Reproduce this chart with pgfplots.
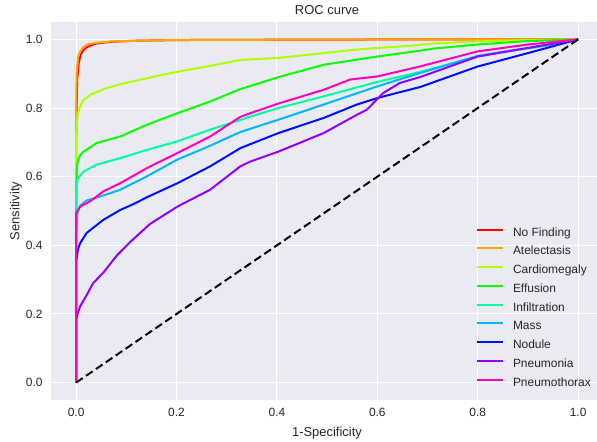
\documentclass[border=0pt]{standalone}
\usepackage{fontspec}
\setmainfont{Liberation Sans}
\usepackage{pgfplots}
\pgfplotsset{compat=1.18}

\definecolor{bg}{RGB}{234,234,242}
\definecolor{tc}{RGB}{38,38,38}
\definecolor{cNF}{RGB}{255,0,0}
\definecolor{cAt}{RGB}{255,167,0}
\definecolor{cCa}{RGB}{176,255,0}
\definecolor{cEf}{RGB}{8,255,0}
\definecolor{cIn}{RGB}{0,255,159}
\definecolor{cMa}{RGB}{0,183,255}
\definecolor{cNo}{RGB}{0,16,255}
\definecolor{cPn}{RGB}{148,0,255}
\definecolor{cPt}{RGB}{255,0,191}

\begin{document}
\begin{tikzpicture}
\begin{axis}[
    at={(51bp,42.2bp)}, anchor=south west,
    scale only axis,
    width=546bp, height=377.6bp,
    xmin=-0.05, xmax=1.0376,
    ymin=-0.05, ymax=1.05,
    xtick={0,0.2,0.4,0.6,0.8,1.0},
    ytick={0,0.2,0.4,0.6,0.8,1.0},
    /pgf/number format/.cd, fixed, fixed zerofill, precision=1, assume math mode=true,
    /pgfplots/.cd,
    axis background/.style={fill=bg},
    axis line style={draw=none},
    major tick length=0pt,
    grid=major,
    grid style={white, line width=1bp},
    tick label style={font=\fontsize{12}{14}\selectfont, text=tc, inner sep=0pt},
    xticklabel style={anchor=north, yshift=-8.6bp},
    yticklabel style={anchor=east, xshift=-8.3bp},
    title={ROC curve},
    every axis title shift=0pt,
    title style={at={(axis description cs:0.5055,1)}, anchor=base, inner sep=0pt,
        yshift=7.6bp, font=\fontsize{13}{15}\selectfont, text=tc},
    xlabel={1-Specificity},
    xlabel style={at={([yshift=-36.7bp]axis description cs:0.5055,0)}, anchor=base,
        inner sep=0pt, font=\fontsize{13}{15}\selectfont, text=tc},
    ylabel={Sensitivity},
    ylabel style={at={([xshift=-31.5bp]axis description cs:0,0.5)}, anchor=base,
        rotate=0, inner sep=0pt, font=\fontsize{13}{15}\selectfont, text=tc},
    legend style={at={(0.7784,0.4576)}, anchor=north west, draw=none, fill=none,
        inner sep=0pt, outer sep=0pt, row sep=6.75bp, column sep=9bp,
        font=\fontsize{12}{14}\selectfont, text=tc,
        nodes={inner sep=0pt, text height=9bp, text depth=3bp}},
    legend cell align=left,
    legend image code/.code={\draw[#1] (0bp,3.5bp) -- (26bp,3.5bp);},
    every axis plot/.append style={line width=2bp, line join=round},
]

\addplot[cNF] coordinates {
    (0,0) (0,0.70) (0.002,0.88) (0.005,0.93) (0.009,0.955) (0.015,0.970)
    (0.025,0.980) (0.04,0.988) (0.07,0.993) (0.12,0.996) (0.2,0.998)
    (0.4,0.999) (0.7,1.0) (1,1)
};
\addlegendentry{No Finding}

\addplot[cAt] coordinates {
    (0,0) (0,0.78) (0.001,0.90) (0.004,0.95) (0.008,0.965) (0.014,0.977)
    (0.022,0.985) (0.04,0.990) (0.07,0.994) (0.12,0.996) (0.2,0.998)
    (0.4,0.999) (0.7,1.0) (1,1)
};
\addlegendentry{Atelectasis}

\addplot[cCa] coordinates {
    (0,0) (0,0.72) (0.003,0.78) (0.008,0.805) (0.015,0.824) (0.03,0.840)
    (0.061,0.858) (0.09,0.870) (0.127,0.882) (0.16,0.893) (0.2,0.905)
    (0.26,0.921) (0.327,0.940) (0.403,0.946) (0.45,0.953) (0.493,0.960)
    (0.55,0.969) (0.6,0.975) (0.665,0.981) (0.711,0.988) (0.8,0.994)
    (0.9,0.998) (1,1)
};
\addlegendentry{Cardiomegaly}

\addplot[cEf] coordinates {
    (0,0) (0,0.47) (0.001,0.62) (0.003,0.644) (0.008,0.662) (0.015,0.673)
    (0.041,0.698) (0.088,0.717) (0.141,0.751) (0.202,0.785) (0.267,0.819)
    (0.327,0.855) (0.403,0.890) (0.493,0.926) (0.6,0.950) (0.685,0.967)
    (0.711,0.973) (0.8,0.985) (0.9,0.995) (1,1)
};
\addlegendentry{Effusion}

\addplot[cIn] coordinates {
    (0,0) (0,0.45) (0.001,0.58) (0.004,0.596) (0.015,0.615) (0.041,0.635)
    (0.088,0.654) (0.141,0.678) (0.202,0.703) (0.267,0.737) (0.327,0.765)
    (0.347,0.775) (0.403,0.800) (0.493,0.834) (0.6,0.876) (0.685,0.905)
    (0.8,0.950) (0.845,0.962) (0.944,0.983) (1,1)
};
\addlegendentry{Infiltration}

\addplot[cMa] coordinates {
    (0,0) (0,0.42) (0.002,0.49) (0.008,0.515) (0.02,0.530) (0.054,0.545)
    (0.088,0.562) (0.141,0.601) (0.202,0.650) (0.267,0.690) (0.327,0.730)
    (0.403,0.766) (0.493,0.810) (0.6,0.863) (0.685,0.902) (0.8,0.952)
    (0.9,0.975) (1,1)
};
\addlegendentry{Mass}

\addplot[cNo] coordinates {
    (0,0) (0,0.353) (0.004,0.390) (0.008,0.406) (0.021,0.436) (0.054,0.474)
    (0.088,0.503) (0.114,0.520) (0.141,0.540) (0.202,0.581) (0.267,0.630)
    (0.327,0.683) (0.403,0.727) (0.493,0.771) (0.559,0.810) (0.6,0.829)
    (0.639,0.844) (0.685,0.861) (0.8,0.921) (0.9,0.960) (1,1)
};
\addlegendentry{Nodule}

\addplot[cPn] coordinates {
    (0,0) (0,0.183) (0.004,0.205) (0.008,0.222) (0.021,0.255) (0.034,0.290)
    (0.054,0.320) (0.081,0.370) (0.108,0.410) (0.147,0.462) (0.202,0.513)
    (0.267,0.562) (0.327,0.630) (0.347,0.644) (0.403,0.673) (0.493,0.727)
    (0.559,0.780) (0.579,0.795) (0.612,0.844) (0.645,0.873) (0.685,0.890)
    (0.8,0.950) (0.9,0.975) (1,1)
};
\addlegendentry{Pneumonia}

\addplot[cPt] coordinates {
    (0,0) (0,0.494) (0.008,0.513) (0.028,0.528) (0.054,0.557) (0.088,0.581)
    (0.141,0.625) (0.202,0.669) (0.267,0.717) (0.327,0.774) (0.347,0.785)
    (0.403,0.813) (0.493,0.853) (0.546,0.883) (0.6,0.892) (0.685,0.921)
    (0.8,0.965) (0.9,0.985) (1,1)
};
\addlegendentry{Pneumothorax}

\addplot[black, dash pattern=on 8bp off 4bp, forget plot] coordinates {(0,0) (1,1)};

\end{axis}
\pgfresetboundingbox
\path (0,0) rectangle (597bp,442bp);
\end{tikzpicture}
\end{document}
